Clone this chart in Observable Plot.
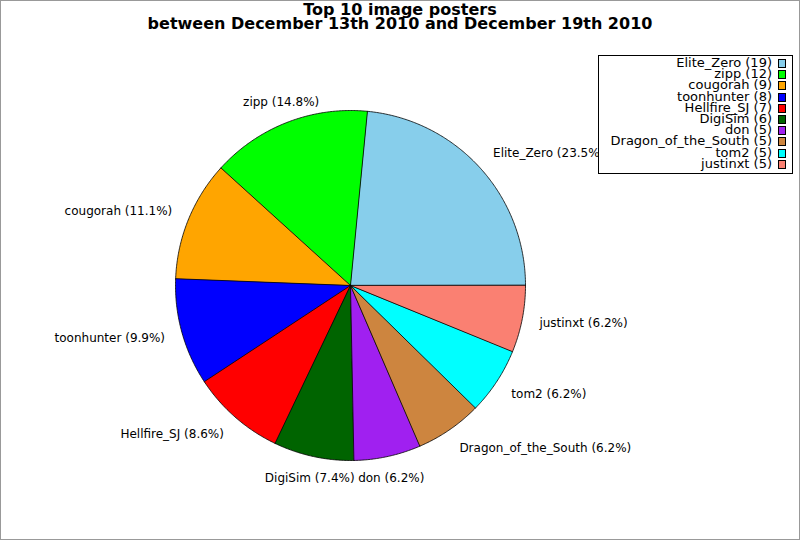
<!DOCTYPE html>
<html><head><meta charset="utf-8">
<script src="https://cdn.jsdelivr.net/npm/d3@7"></script>
<script src="https://cdn.jsdelivr.net/npm/@observablehq/plot@0.6"></script>
<style>
body{margin:0;background:#fff;font-family:"DejaVu Sans",sans-serif;}
#wrap{position:relative;width:800px;height:540px;overflow:hidden;background:#fff;}
#border{position:absolute;left:0;top:0;width:800px;height:540px;box-sizing:border-box;border:1px solid #999;pointer-events:none;}
#title{position:absolute;left:0;top:3px;width:800px;text-align:center;font-weight:bold;font-size:16px;line-height:14px;color:#000;}
#legend{position:absolute;left:598px;top:55px;width:195px;height:119px;box-sizing:border-box;border:1px solid #000;background:#fff;}
.row{position:absolute;right:0;height:12px;font-size:13px;line-height:12px;white-space:nowrap;}
.row span.t{position:absolute;right:20px;top:0;}
.row span.s{position:absolute;right:6px;top:2px;width:6px;height:7px;border:1px solid #000;}
svg{position:absolute;left:0;top:0;}
</style></head>
<body>
<div id="wrap">
<div id="title">Top 10 image posters<br>between December 13th 2010 and December 19th 2010</div>
<div id="legend"></div>
<div id="border"></div>
</div>
<script>
const names = ["Elite_Zero","zipp","cougorah","toonhunter","Hellfire_SJ","DigiSim","don","Dragon_of_the_South","tom2","justinxt"];
const counts = [19,12,9,8,7,6,5,5,5,5];
const colors = ["#87CEEB","#00FF00","#FFA500","#0000FF","#FF0000","#006400","#A020F0","#CD853F","#00FFFF","#FA8072"];

const total = d3.sum(counts);
// slices counterclockwise from 3 o'clock
let cum = 0;
const slices = names.map((n,i)=>{
  const a0 = cum/total*2*Math.PI; cum += counts[i];
  const a1 = cum/total*2*Math.PI;
  return {name:n, count:counts[i], a0, a1, mid:(a0+a1)/2, pct:(counts[i]/total*100).toFixed(1)};
});
const poly = [];
for (const s of slices) {
  poly.push({name:s.name, x:0, y:0});
  const steps = Math.max(2, Math.ceil((s.a1-s.a0)/(Math.PI/360)));
  for (let k=0;k<=steps;k++){
    const a = s.a0 + (s.a1-s.a0)*k/steps;
    poly.push({name:s.name, x:Math.cos(a), y:Math.sin(a)});
  }
}
const LRx = 1.1, LRy = 1.125;
const labels = slices.map(s=>{
  const c = Math.cos(s.mid);
  return {label:`${s.name} (${s.pct}%)`, x:LRx*c, y:LRy*Math.sin(s.mid),
    anchor: Math.abs(c) < 0.4 ? "middle" : (c>0 ? "start" : "end")};
});
const R = 175, cx = 350, cy = 285;
const textOpts = {x:"x", y:"y", text:"label", fontSize:12, fill:"#000"};
const chart = Plot.plot({
  width:800, height:540, margin:0,
  style:{fontFamily:"DejaVu Sans, sans-serif", background:"transparent"},
  x:{domain:[-cx/R,(800-cx)/R], axis:null},
  y:{domain:[-(540-cy)/R, cy/R], axis:null},
  color:{domain:names, range:colors},
  marks:[
    Plot.line(poly,{x:"x", y:"y", z:"name", fill:"name", stroke:"#000", strokeWidth:0.8, curve:"linear-closed"}),
    Plot.text(labels.filter(d=>d.anchor==="start"),{...textOpts, textAnchor:"start"}),
    Plot.text(labels.filter(d=>d.anchor==="end"),{...textOpts, textAnchor:"end"}),
    Plot.text(labels.filter(d=>d.anchor==="middle"),{...textOpts, textAnchor:"middle"})
  ]
});
const wrap = document.getElementById("wrap");
wrap.insertBefore(chart, wrap.firstChild);

const leg = document.getElementById("legend");
names.forEach((n,i)=>{
  const r = document.createElement("div");
  r.className="row";
  r.style.top = (1 + i*11.2) + "px";
  r.style.width="100%";
  r.innerHTML = `<span class="t">${n} (${counts[i]})</span><span class="s" style="background:${colors[i]}"></span>`;
  leg.appendChild(r);
});
</script>
</body></html>
